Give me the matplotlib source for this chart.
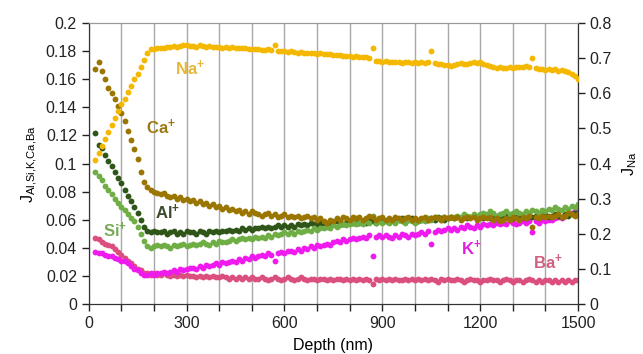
import numpy as np
import matplotlib
matplotlib.use("Agg")
import matplotlib.pyplot as plt

plt.rcParams['font.family'] = ['Liberation Sans', 'DejaVu Sans']
plt.rcParams['mathtext.default'] = 'regular'

# depth sampling (nm), every 10 nm from 20 to 1500
depth = np.arange(20, 1501, 10)

# Na+ (right axis)
na = [0.41, 0.43, 0.45, 0.47, 0.49, 0.51, 0.53, 0.55, 0.57, 0.585,
      0.605, 0.62, 0.64, 0.655, 0.675, 0.695, 0.715, 0.725, 0.727, 0.728,
      0.73, 0.729, 0.733, 0.731, 0.734, 0.732, 0.735, 0.737, 0.736, 0.734,
      0.735, 0.733, 0.736, 0.734, 0.732, 0.735, 0.733, 0.731, 0.733, 0.730,
      0.732, 0.729, 0.731, 0.728, 0.730, 0.728, 0.729, 0.727, 0.726, 0.727,
      0.725, 0.724, 0.722, 0.726, 0.723, 0.737, 0.721, 0.719, 0.72, 0.718,
      0.719, 0.717, 0.716, 0.718, 0.715, 0.716, 0.714, 0.715, 0.713, 0.715,
      0.712, 0.713, 0.711, 0.709, 0.71, 0.708, 0.707, 0.706, 0.705, 0.704,
      0.705, 0.703, 0.704, 0.702, 0.701, 0.729, 0.692, 0.691, 0.69, 0.692,
      0.689, 0.69, 0.688, 0.69, 0.687, 0.689, 0.688, 0.686, 0.69, 0.687,
      0.688, 0.686, 0.689, 0.72, 0.687, 0.684, 0.682, 0.68, 0.681, 0.679,
      0.68, 0.683, 0.685, 0.682, 0.684, 0.686, 0.688, 0.685, 0.689, 0.684,
      0.68, 0.677, 0.675, 0.672, 0.674, 0.671, 0.673, 0.675, 0.672, 0.674,
      0.676, 0.674, 0.677, 0.675, 0.70, 0.672, 0.668, 0.67, 0.667, 0.669,
      0.666, 0.668, 0.664, 0.665, 0.662, 0.66, 0.655, 0.65, 0.642]

ca = [0.167, 0.172, 0.166, 0.160, 0.154, 0.150, 0.146, 0.141, 0.136, 0.130,
      0.123, 0.117, 0.110, 0.103, 0.094, 0.087, 0.083, 0.081, 0.080, 0.079,
      0.078, 0.079, 0.077, 0.076, 0.077, 0.075, 0.076, 0.074, 0.075, 0.073,
      0.074, 0.072, 0.073, 0.071, 0.072, 0.070, 0.071, 0.069, 0.070, 0.068,
      0.069, 0.067, 0.068, 0.066, 0.067, 0.065, 0.066, 0.064, 0.066, 0.065,
      0.064, 0.063, 0.064, 0.065, 0.063, 0.064, 0.062, 0.063, 0.064, 0.062,
      0.063, 0.062, 0.063, 0.061, 0.062, 0.063, 0.061, 0.062, 0.060, 0.061,
      0.059, 0.058, 0.060, 0.059, 0.061, 0.060, 0.062, 0.061, 0.060, 0.062,
      0.061, 0.062, 0.060, 0.061, 0.063, 0.062, 0.060, 0.061, 0.062, 0.060,
      0.061, 0.060, 0.062, 0.061, 0.060, 0.061, 0.062, 0.060, 0.061, 0.060,
      0.061, 0.062, 0.060, 0.061, 0.062, 0.061, 0.060, 0.062, 0.061, 0.062,
      0.061, 0.062, 0.060, 0.061, 0.062, 0.061, 0.062, 0.060, 0.061, 0.062,
      0.061, 0.062, 0.060, 0.061, 0.059, 0.060, 0.061, 0.060, 0.062, 0.061,
      0.060, 0.062, 0.061, 0.063, 0.055, 0.062, 0.061, 0.063, 0.062, 0.063,
      0.062, 0.063, 0.064, 0.062, 0.063, 0.065, 0.064, 0.063, 0.064]

al = [0.122, 0.113, 0.111, 0.106, 0.102, 0.098, 0.094, 0.090, 0.086, 0.081,
      0.077, 0.073, 0.069, 0.065, 0.060, 0.055, 0.052, 0.051, 0.052, 0.051,
      0.051, 0.052, 0.050, 0.051, 0.052, 0.050, 0.051, 0.050, 0.052, 0.051,
      0.051, 0.050, 0.052, 0.051, 0.050, 0.052, 0.051, 0.052, 0.051, 0.052,
      0.052, 0.053, 0.052, 0.053, 0.052, 0.054, 0.053, 0.054, 0.053, 0.054,
      0.054, 0.055, 0.054, 0.055, 0.054, 0.055, 0.056, 0.055, 0.056, 0.055,
      0.056, 0.055, 0.057, 0.056, 0.057, 0.056, 0.058, 0.057, 0.056, 0.058,
      0.057, 0.058, 0.057, 0.058, 0.059, 0.058, 0.057, 0.058, 0.059, 0.058,
      0.059, 0.058, 0.059, 0.058, 0.060, 0.059, 0.058, 0.059, 0.060, 0.059,
      0.059, 0.060, 0.059, 0.060, 0.061, 0.059, 0.060, 0.061, 0.060, 0.059,
      0.060, 0.061, 0.060, 0.061, 0.060, 0.062, 0.061, 0.060, 0.061, 0.062,
      0.061, 0.062, 0.061, 0.062, 0.061, 0.062, 0.063, 0.061, 0.062, 0.061,
      0.062, 0.061, 0.062, 0.063, 0.062, 0.061, 0.063, 0.062, 0.061, 0.062,
      0.063, 0.062, 0.061, 0.063, 0.062, 0.063, 0.062, 0.063, 0.064, 0.062,
      0.063, 0.064, 0.063, 0.062, 0.064, 0.063, 0.064, 0.065, 0.064]

si = [0.094, 0.091, 0.088, 0.084, 0.081, 0.078, 0.075, 0.072, 0.069, 0.067,
      0.064, 0.061, 0.059, 0.055, 0.050, 0.045, 0.041, 0.040, 0.041, 0.042,
      0.041, 0.042, 0.041, 0.040, 0.042, 0.041, 0.042, 0.043, 0.041, 0.042,
      0.043, 0.042, 0.043, 0.044, 0.043, 0.042, 0.044, 0.043, 0.045, 0.044,
      0.044, 0.045, 0.046, 0.045, 0.046, 0.047, 0.046, 0.047, 0.046, 0.048,
      0.047, 0.048, 0.047, 0.049, 0.048, 0.050, 0.049, 0.050, 0.051, 0.050,
      0.051, 0.050, 0.052, 0.051, 0.052, 0.053, 0.052, 0.054, 0.053, 0.054,
      0.054, 0.055, 0.054, 0.056, 0.055, 0.056, 0.057, 0.056, 0.057, 0.058,
      0.057, 0.058, 0.057, 0.059, 0.058, 0.063, 0.058, 0.059, 0.058, 0.059,
      0.058, 0.059, 0.058, 0.060, 0.059, 0.058, 0.060, 0.059, 0.058, 0.059,
      0.060, 0.059, 0.061, 0.060, 0.062, 0.061, 0.060, 0.062, 0.061, 0.062,
      0.062, 0.063, 0.062, 0.064, 0.063, 0.062, 0.064, 0.063, 0.064, 0.065,
      0.064, 0.066, 0.065, 0.063, 0.064, 0.065, 0.066, 0.064, 0.065, 0.066,
      0.065, 0.064, 0.066, 0.065, 0.067, 0.066, 0.065, 0.067, 0.066, 0.068,
      0.067, 0.069, 0.068, 0.067, 0.069, 0.068, 0.070, 0.069, 0.071]

k = [0.037, 0.036, 0.036, 0.035, 0.034, 0.034, 0.033, 0.032, 0.031, 0.031,
     0.029, 0.027, 0.025, 0.024, 0.022, 0.021, 0.021, 0.022, 0.021, 0.022,
     0.022, 0.023, 0.022, 0.023, 0.024, 0.023, 0.025, 0.024, 0.025, 0.026,
     0.026, 0.025, 0.027, 0.026, 0.028, 0.027, 0.028, 0.029, 0.028, 0.030,
     0.029, 0.030, 0.031, 0.030, 0.032, 0.031, 0.033, 0.032, 0.034, 0.033,
     0.034, 0.035, 0.034, 0.036, 0.035, 0.031, 0.036, 0.037, 0.036, 0.038,
     0.038, 0.037, 0.039, 0.038, 0.040, 0.039, 0.041, 0.040, 0.042, 0.041,
     0.042, 0.043, 0.042, 0.044, 0.045, 0.044, 0.046, 0.045, 0.046, 0.047,
     0.046, 0.047, 0.048, 0.047, 0.049, 0.034, 0.048, 0.049, 0.048, 0.049,
     0.048, 0.047, 0.049, 0.048, 0.050, 0.049, 0.048, 0.050, 0.049, 0.050,
     0.051, 0.050, 0.052, 0.043, 0.051, 0.053, 0.052, 0.053, 0.054, 0.053,
     0.054, 0.053, 0.055, 0.054, 0.056, 0.055, 0.054, 0.056, 0.055, 0.057,
     0.056, 0.057, 0.056, 0.058, 0.057, 0.058, 0.057, 0.059, 0.058, 0.057,
     0.058, 0.059, 0.058, 0.059, 0.051, 0.059, 0.058, 0.060, 0.059, 0.060,
     0.060, 0.061, 0.062, 0.061, 0.063, 0.064, 0.065, 0.066, 0.068]

ba = [0.047, 0.046, 0.044, 0.043, 0.042, 0.041, 0.039, 0.037, 0.035, 0.033,
      0.031, 0.029, 0.027, 0.025, 0.024, 0.022, 0.022, 0.021, 0.022, 0.021,
      0.021, 0.022, 0.021, 0.020, 0.021, 0.020, 0.021, 0.020, 0.021, 0.020,
      0.020, 0.019, 0.020, 0.019, 0.020, 0.019, 0.020, 0.019, 0.019, 0.020,
      0.019, 0.018, 0.019, 0.018, 0.019, 0.018, 0.019, 0.018, 0.019, 0.018,
      0.018, 0.019, 0.018, 0.017, 0.018, 0.019, 0.018, 0.017, 0.018, 0.019,
      0.018, 0.017, 0.018, 0.019, 0.018, 0.017, 0.018, 0.018, 0.017, 0.018,
      0.018, 0.017, 0.018, 0.017, 0.018, 0.018, 0.017, 0.018, 0.017, 0.018,
      0.017, 0.018, 0.017, 0.018, 0.017, 0.014, 0.018, 0.017, 0.018, 0.017,
      0.018, 0.017, 0.018, 0.017, 0.017, 0.018, 0.017, 0.018, 0.017, 0.018,
      0.017, 0.018, 0.017, 0.018, 0.017, 0.016, 0.018, 0.017, 0.018, 0.017,
      0.017, 0.018, 0.017, 0.016, 0.017, 0.018, 0.017, 0.017, 0.016, 0.017,
      0.017, 0.018, 0.017, 0.017, 0.016, 0.017, 0.018, 0.017, 0.016, 0.017,
      0.017, 0.016, 0.017, 0.018, 0.017, 0.016, 0.017, 0.016, 0.017, 0.017,
      0.016, 0.017, 0.016, 0.017, 0.016, 0.017, 0.016, 0.017, 0.017]

left_ticks = [0, 0.02, 0.04, 0.06, 0.08, 0.1, 0.12, 0.14, 0.16, 0.18, 0.2]
right_ticks = [0, 0.1, 0.2, 0.3, 0.4, 0.5, 0.6, 0.7, 0.8]
x_ticks = [0, 300, 600, 900, 1200, 1500]

c_na = '#f5b800'
c_ca = '#9a7600'
c_al = '#2f5519'
c_si = '#6fae44'
c_k = '#ee1aee'
c_ba = '#da4f7d'

fig = plt.figure(figsize=(6.43, 3.54), dpi=100)
ax = fig.add_axes([0.138, 0.141, 0.761, 0.794])
ax2 = ax.twinx()

ms = 4.2
for vals, col in [(ba, c_ba), (k, c_k), (al, c_al), (si, c_si), (ca, c_ca)]:
    ax.plot(depth, vals, 'o', color=col, ms=ms, mec='none', zorder=3)
ax2.plot(depth, na, 'o', color=c_na, ms=ms, mec='none', zorder=3)

ax.set_xlim(0, 1500)
ax.set_ylim(0, 0.2)
ax2.set_ylim(0, 0.8)

ax.set_xticks(x_ticks)
ax.set_xticks(np.arange(0, 1501, 100), minor=True)
ax.set_yticks(left_ticks)
ax.set_yticklabels([('%g' % t) for t in left_ticks])
ax2.set_yticks(right_ticks)
ax2.set_yticklabels([('%g' % t) for t in right_ticks])

ax.grid(axis='x', which='both', color='#a8a8a8', lw=1)
ax.set_axisbelow(True)

for a in (ax, ax2):
    a.tick_params(labelsize=11.5, colors='#222222', length=5, width=1)
    a.tick_params(which='minor', length=5, width=1, color='#222222')
    for s in ['left', 'right', 'bottom']:
        a.spines[s].set_color('#333333')
    a.spines['top'].set_color('#999999')

ax.set_xlabel('Depth (nm)', fontsize=11.5, labelpad=5)
ax.set_ylabel('J$_{Al{,}Si{,}K{,}Ca{,}Ba}$', fontsize=11.5, labelpad=4)
ax2.set_ylabel('J$_{Na}$', fontsize=11.5, labelpad=6)

lab = dict(fontsize=12, fontweight='bold', ha='center', va='center')
ax2.text(310, 0.672, 'Na$^{+}$', color='#e6b83a', **lab)
ax.text(221, 0.126, 'Ca$^{+}$', color='#9a7a10', **lab)
ax.text(242, 0.0655, 'Al$^{+}$', color='#3c4a2e', **lab)
ax.text(80, 0.0527, 'Si$^{+}$', color='#7aab5a', **lab)
ax.text(1172, 0.040, 'K$^{+}$', color='#e020e0', **lab)
ax.text(1408, 0.030, 'Ba$^{+}$', color='#d0607f', **lab)

fig.savefig('out.png', dpi=100)
